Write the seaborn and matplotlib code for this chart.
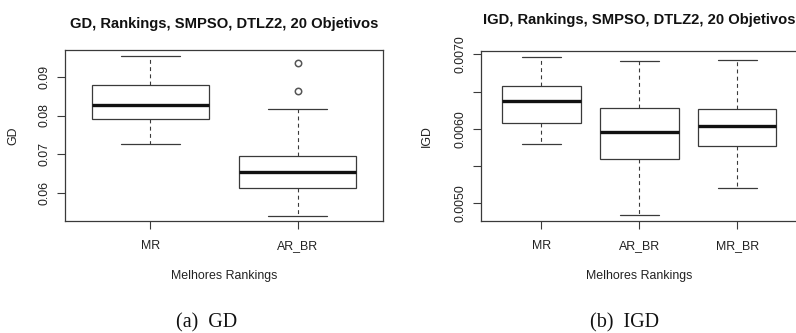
import matplotlib
matplotlib.use("Agg")
import matplotlib.pyplot as plt
import pandas as pd
import seaborn as sns

# ---------------- data ----------------
gd_categories = ["MR", "AR_BR"]
gd_mr = [0.0726, 0.0791, 0.0828, 0.0880, 0.0953]
gd_ar_br = [0.0541, 0.0612, 0.0612, 0.0612, 0.0653, 0.0653, 0.0653,
            0.0695, 0.0695, 0.0695, 0.0816, 0.0864, 0.0937]

igd_categories = ["MR", "AR_BR", "MR_BR"]
igd_mr = [0.00580, 0.00608, 0.00637, 0.00657, 0.00697]
igd_ar_br = [0.00484, 0.00559, 0.00596, 0.00628, 0.00691]
igd_mr_br = [0.00520, 0.00577, 0.00604, 0.00626, 0.00693]

gd_yticks = [0.06, 0.07, 0.08, 0.09]
gd_yticklabels = ["0.06", "0.07", "0.08", "0.09"]
igd_yticks = [0.0050, 0.0055, 0.0060, 0.0065, 0.0070]
igd_yticklabels = ["0.0050", "", "0.0060", "", "0.0070"]

gd_title = "GD, Rankings, SMPSO, DTLZ2, 20 Objetivos"
igd_title = "IGD, Rankings, SMPSO, DTLZ2, 20 Objetivos"
x_label = "Melhores Rankings"

# ---------------- style ----------------
sns.set_style("ticks")
plt.rcParams["font.family"] = ["Liberation Sans", "DejaVu Sans"]

W, H = 796, 333
fig = plt.figure(figsize=(W / 100, H / 100), dpi=100)

LINE = "#3a3a3a"
BASE = 8.9
TITLE = 10.6


def make_df(cats, groups):
    rows = []
    for c, vals in zip(cats, groups):
        for v in vals:
            rows.append({"grupo": c, "valor": v})
    return pd.DataFrame(rows)


def draw(ax, df, cats):
    sns.boxplot(
        data=df, x="grupo", y="valor", order=cats, ax=ax,
        color="white", linecolor=LINE, linewidth=0.9, width=0.8,
        saturation=1,
        whiskerprops={"linestyle": (0, (3.5, 3)), "linewidth": 0.8},
        medianprops={"linewidth": 2.4, "color": "#111111"},
        flierprops={"marker": "o", "markersize": 4.6,
                    "markerfacecolor": "none",
                    "markeredgecolor": "#555555", "markeredgewidth": 1.1},
    )


def px_rect(l, r, t, b):
    return [l / W, 1 - b / H, (r - l) / W, (b - t) / H]


# ---------------- left panel (GD) ----------------
ax1 = fig.add_axes(px_rect(65, 383, 50, 221))
draw(ax1, make_df(gd_categories, [gd_mr, gd_ar_br]), gd_categories)
ax1.set_xlim(-0.58, 1.58)
ax1.set_ylim(0.0527, 0.09695)
ax1.set_yticks(gd_yticks)
ax1.set_yticklabels(gd_yticklabels, rotation=90, va="center")

# ---------------- right panel (IGD) ----------------
ax2 = fig.add_axes(px_rect(480.7, 798, 50.7, 221))
draw(ax2, make_df(igd_categories, [igd_mr, igd_ar_br, igd_mr_br]), igd_categories)
ax2.set_xlim(-0.62, 2.62)
ax2.set_ylim(0.00476, 0.00705)
ax2.set_yticks(igd_yticks)
ax2.set_yticklabels(igd_yticklabels, rotation=90, va="center")

for ax, title, ylab, tpad, ylx in [
    (ax1, gd_title, "GD", 16.0, -0.142),
    (ax2, igd_title, "IGD", 19.5, -0.150),
]:
    for s in ax.spines.values():
        s.set_visible(True)
        s.set_color(LINE)
        s.set_linewidth(0.9)
    ax.tick_params(axis="both", direction="out", length=5.5, width=0.8,
                   color=LINE, labelsize=BASE, labelcolor="#222222")
    ax.tick_params(axis="x", pad=8.5)
    ax.tick_params(axis="y", pad=5.0)
    ax.set_title(title, fontsize=TITLE, fontweight="bold", pad=tpad,
                 color="#111111")
    ax.set_xlabel(x_label, fontsize=BASE, color="#222222")
    ax.set_ylabel(ylab, fontsize=BASE, color="#222222")
    ax.xaxis.set_label_coords(0.5, -(270 - 221) / 171)
    ax.yaxis.set_label_coords(ylx, 0.5)
    ax.grid(False)

# ---------------- sub-captions ----------------
fig.text(207 / W, 1 - 323 / H, "(a)  GD", ha="center", va="center",
         family=["Liberation Serif", "DejaVu Serif"], fontsize=14.5,
         color="#111111")
fig.text(624 / W, 1 - 323 / H, "(b)  IGD", ha="center", va="center",
         family=["Liberation Serif", "DejaVu Serif"], fontsize=14.5,
         color="#111111")

fig.savefig("out.png", dpi=100, facecolor="white")
